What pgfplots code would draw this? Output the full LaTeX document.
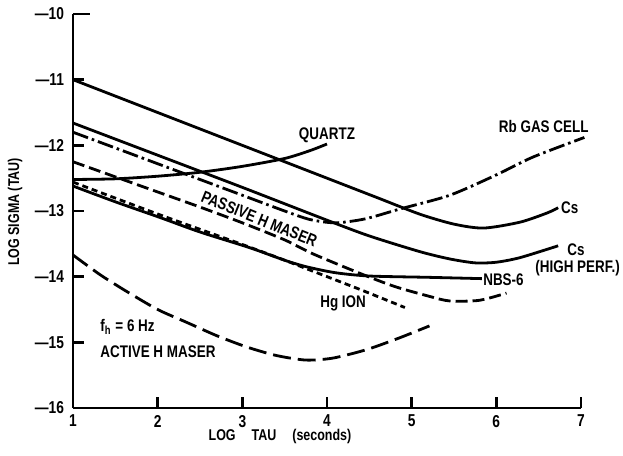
\documentclass[border=0pt]{standalone}
\usepackage{fontspec}
\setmainfont{Liberation Sans}[FakeStretch=0.8]
\usepackage{pgfplots}
\pgfplotsset{compat=1.18}
\newcommand\lab{\fontsize{8.4}{9}\selectfont\bfseries}
\pgfplotsset{cv/.style={black, line width=1.4pt, smooth, tension=0.45, no marks}}
\begin{document}
\begin{tikzpicture}
\useasboundingbox (-36.5pt,-24pt) rectangle (275pt,204pt);
\begin{axis}[at={(0pt,0pt)}, anchor=south west, scale only axis,
  width=254pt, height=197pt,
  xmin=1, xmax=7, ymin=-16, ymax=-10,
  axis x line=bottom, axis y line=left,
  axis line style={-, line width=1.2pt},
  xtick={1,...,7}, xticklabels={1,2,3,4,5,6,7},
  ytick={-16,...,-11}, yticklabels={—16,—15,—14,—13,—12,—11},
  extra y ticks={-10}, extra y tick labels={—10},
  extra y tick style={major tick length=8.5pt},
  /pgf/number format/assume math mode=true,
  tick align=inside, major tick length=5.5pt,
  tick style={line width=1.2pt, black},
  tick label style={font=\fontsize{8.6}{9}\selectfont\bfseries},
  yticklabel style={xshift=-1pt},
  clip=false]
% Cs
\addplot[cv] coordinates {(1,-11) (2,-11.5) (3,-12) (4,-12.5) (4.6,-12.8) (5.1,-13.05) (5.5,-13.2) (5.85,-13.26) (6.28,-13.17) (6.6,-13.03) (6.73,-12.95)};
% Cs high perf
\addplot[cv] coordinates {(1,-11.66) (2,-12.15) (3,-12.64) (4,-13.14) (4.5,-13.38) (5.1,-13.62) (5.45,-13.73) (5.75,-13.79) (6.0,-13.78) (6.28,-13.71) (6.73,-13.53)};
% Rb gas cell
\addplot[cv, dash pattern=on 8pt off 2pt on 1.3pt off 2pt] coordinates {(1,-11.8) (2,-12.28) (3,-12.76) (3.5,-13.0) (3.8,-13.13) (4.1,-13.18) (4.45,-13.12) (4.86,-12.97) (5.45,-12.76) (6,-12.45) (6.43,-12.18) (7.04,-11.88)};
% Quartz
\addplot[cv] coordinates {(1,-12.52) (1.5,-12.51) (2,-12.47) (2.5,-12.41) (3,-12.32) (3.5,-12.2) (3.8,-12.08) (4.0,-11.98)};
% Passive H maser
\addplot[cv, dash pattern=on 6pt off 2.5pt] coordinates {(1,-12.25) (1.5,-12.48) (2,-12.71) (2.5,-12.94) (3,-13.18) (3.5,-13.44) (3.83,-13.65) (4.39,-13.95) (4.8,-14.15) (5.21,-14.3) (5.45,-14.37) (5.8,-14.36) (6.12,-14.25)};
% NBS-6
\addplot[cv] coordinates {(1,-12.62) (1.5,-12.86) (2.03,-13.1) (2.5,-13.32) (3.09,-13.56) (3.5,-13.75) (3.76,-13.85) (4.1,-13.94) (4.5,-13.99) (5.2,-14.01) (5.83,-14.03)};
% Hg ion
\addplot[cv, dash pattern=on 3pt off 2pt] coordinates {(1,-12.56) (2.03,-13.06) (3,-13.51) (3.44,-13.72) (3.8,-13.9) (4.4,-14.2) (4.92,-14.47)};
% Active H maser
\addplot[cv, dash pattern=on 9pt off 3.5pt] coordinates {(1,-13.67) (1.32,-13.97) (1.64,-14.23) (2,-14.5) (2.35,-14.7) (2.7,-14.9) (3.05,-15.07) (3.4,-15.2) (3.75,-15.27) (4.07,-15.24) (4.47,-15.11) (4.86,-14.93) (5.21,-14.75)};

\node[font=\lab] at (axis cs:4.0,-11.84) {QUARTZ};
\node[font=\lab] at (axis cs:6.56,-11.72) {Rb GAS CELL};
\node[font=\lab, anchor=west, inner sep=0.5pt] at (axis cs:6.75,-12.95) {Cs};
\node[font=\lab] at (axis cs:6.94,-13.59) {Cs};
\node[font=\lab] at (axis cs:6.96,-13.87) {(HIGH PERF.)};
\node[font=\lab, anchor=west, inner sep=0.5pt] at (axis cs:5.83,-14.05) {NBS-6};
\node[font=\lab] at (axis cs:4.19,-14.40) {Hg ION};
\node[font=\lab, rotate=-22, inner sep=0pt] at (axis cs:3.2,-13.12) {PASSIVE H MASER};
\node[font=\lab, anchor=west, inner sep=0pt] at (axis cs:1.32,-14.76) {f\textsubscript{h} = 6 Hz};
\node[font=\lab, anchor=west, inner sep=0pt] at (axis cs:1.32,-15.14) {ACTIVE H MASER};
\end{axis}
\node[font=\fontsize{7.8}{9}\selectfont\bfseries, rotate=90] at (-29pt,98pt) {LOG SIGMA (TAU)};
\node[font=\fontsize{7.8}{9}\selectfont\bfseries] at (103.5pt,-14pt) {LOG\hspace{8pt}TAU\hspace{8pt}(seconds)};
\end{tikzpicture}
\end{document}
